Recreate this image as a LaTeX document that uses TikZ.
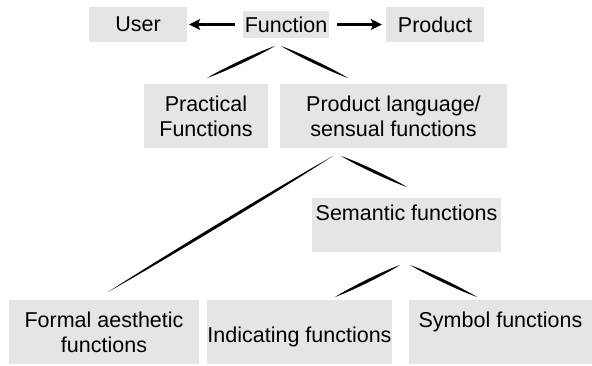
\documentclass[tikz,border=0pt]{standalone}
\usepackage{fontspec}
\setmainfont{Liberation Sans}
\usetikzlibrary{arrows.meta,calc}

\definecolor{boxgray}{RGB}{229,229,229}

% a brush-like stroke that is thick in the middle and tapers at both ends
\newcommand\brushline[2]{%
  \fill[black] (#1)
    .. controls ($(#1)!0.25!(#2)!2pt!90:(#2)$) and ($(#1)!0.75!(#2)!2pt!90:(#2)$) .. (#2)
    .. controls ($(#1)!0.75!(#2)!2pt!-90:(#2)$) and ($(#1)!0.25!(#2)!2pt!-90:(#2)$) .. (#1)
    -- cycle;}

\begin{document}
\begin{tikzpicture}[x=1pt,y=1pt,
  box/.style={fill=boxgray, draw=none, inner sep=0pt, align=center,
    font=\fontsize{21.5}{25}\selectfont},
  sidearrow/.style={line width=2.3pt, -{Stealth[length=11pt,width=11pt,inset=2.5pt]}}]
  \useasboundingbox (0,0) rectangle (592,365);

  % top row
  \node[box, minimum width=98pt, minimum height=35pt] (user) at (138,340.5) {User};
  \node[box, minimum width=86pt, minimum height=27pt] (func) at (286,340.5) {Function};
  \node[box, minimum width=98pt, minimum height=35pt] (prod) at (435,340.5) {Product};

  % second row
  \node[box, minimum width=124pt, minimum height=64pt] (prac) at (206,249) {Practical\\Functions};
  \node[box, minimum width=227pt, minimum height=64pt] (lang) at (393.5,249) {Product language/\\sensual functions};

  % third row
  \node[box, minimum width=189pt, minimum height=54pt] (sem) at (406.5,140) {Semantic functions\\~};

  % bottom row
  \node[box, minimum width=190pt, minimum height=64pt] (form) at (104,33) {Formal aesthetic\\functions};
  \node[box, minimum width=179pt, minimum height=64pt, text height=20pt, text depth=0pt] (ind) at (299.5,33) {Indicating functions};
  \node[box, minimum width=183pt, minimum height=64pt] (sym) at (500.5,33) {Symbol functions\\~};

  % arrows of the top row
  \draw[sidearrow, shorten <=8pt, shorten >=2pt] (func) -- (user);
  \draw[sidearrow, shorten <=8pt, shorten >=4pt] (func) -- (prod);

  % end points of the branch strokes
  \coordinate (funcL) at (275,319);
  \coordinate (funcR) at (281,319);
  \coordinate (pracT) at (207,287);
  \coordinate (langT) at (348,287);
  \coordinate (langL) at (333,209);
  \coordinate (langR) at (341,209);
  \coordinate (formT) at (108,73);
  \coordinate (semT)  at (407,178);
  \coordinate (semL)  at (400,100);
  \coordinate (semR)  at (410,100);
  \coordinate (indT)  at (335,68);
  \coordinate (symT)  at (477,68);

  % branches
  \brushline{funcL}{pracT}
  \brushline{funcR}{langT}
  \brushline{langL}{formT}
  \brushline{langR}{semT}
  \brushline{semL}{indT}
  \brushline{semR}{symT}
\end{tikzpicture}
\end{document}
